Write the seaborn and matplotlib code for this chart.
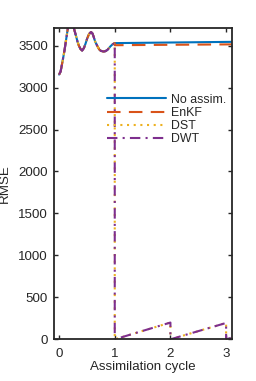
import numpy as np
import pandas as pd
import matplotlib
matplotlib.use("Agg")
import matplotlib.pyplot as plt
import seaborn as sns

# first cycle (free run, identical for all methods)
spin_x = [0.0, 0.027, 0.054, 0.075, 0.097, 0.115, 0.133, 0.156, 0.18, 0.21, 0.24, 0.264,
          0.29, 0.31, 0.33, 0.354, 0.385, 0.414, 0.445, 0.474, 0.505, 0.534, 0.556, 0.576,
          0.60, 0.623, 0.65, 0.683, 0.72, 0.75, 0.773, 0.80, 0.833, 0.87, 0.92, 0.96, 1.0]
spin_y = [3155, 3190, 3283, 3360, 3441, 3520, 3601, 3700, 3800, 3850, 3800, 3712,
          3650, 3601, 3550, 3501, 3460, 3441, 3470, 3521, 3585, 3632, 3652, 3661,
          3645, 3601, 3545, 3501, 3455, 3438, 3434, 3430, 3434, 3450, 3490, 3515, 3530]

# after the first cycle
noassim_x = [1.0, 3.1]
noassim_y = [3530, 3545]
enkf_x = [1.0, 3.1]
enkf_y = [3505, 3515]
dst_x = [1.0, 1.0, 2.0, 2.0, 3.0, 3.0, 3.1]
dst_y = [3530, 0, 200, 0, 195, 0, 20]
dwt_x = [1.0, 1.0, 2.0, 2.0, 3.0, 3.0, 3.1]
dwt_y = [3530, 0, 200, 0, 195, 0, 20]

labels = ["No assim.", "EnKF", "DST", "DWT"]
colors = ["#0072BD", "#D95319", "#EDB120", "#7E2F8E"]

sns.set_style("ticks")
plt.rcParams["font.family"] = ["Liberation Sans", "DejaVu Sans"]

fig = plt.figure(figsize=(2.56, 3.81), dpi=100)
ax = fig.add_axes([0.209, 0.1094, 0.696, 0.816])

series = [
    (spin_x[:-1] + noassim_x, spin_y[:-1] + noassim_y),
    (spin_x + enkf_x, spin_y + enkf_y),
    (spin_x[:-1] + dst_x, spin_y[:-1] + dst_y),
    (spin_x[:-1] + dwt_x, spin_y[:-1] + dwt_y),
]
dash_styles = [None, (6.5, 4), (1, 2.2), (5, 2.5, 1, 2.5)]

for (xs, ys), lab, col, ds in zip(series, labels, colors, dash_styles):
    df = pd.DataFrame({"x": xs, "y": ys})
    sns.lineplot(data=df, x="x", y="y", ax=ax, color=col, label=lab,
                 sort=False, estimator=None, linewidth=1.5)
    if ds is not None:
        ax.lines[-1].set_dashes(ds)

ax.set_xlim(-0.1, 3.1)
ax.set_ylim(0, 3705)
ax.set_xticks([0, 1, 2, 3])
ax.set_yticks(np.arange(0, 3501, 500))
ax.tick_params(direction="in", length=3, width=1, top=True, right=True,
               labelsize=9.6, colors="#262626", pad=4)
ax.tick_params(axis="x", pad=6)
for sp in ax.spines.values():
    sp.set_linewidth(1.3)
    sp.set_color("#262626")
ax.set_xlabel("Assimilation cycle", fontsize=9.6, color="#262626", labelpad=1)
ax.set_ylabel("RMSE", fontsize=9.6, color="#262626", labelpad=5)

ax.legend(loc="upper left", bbox_to_anchor=(0.30, 0.79), frameon=False,
          fontsize=8.9, handlelength=4.76, handletextpad=0.46, labelspacing=0.1,
          borderpad=0, borderaxespad=0)

fig.savefig("out.png", dpi=100)
